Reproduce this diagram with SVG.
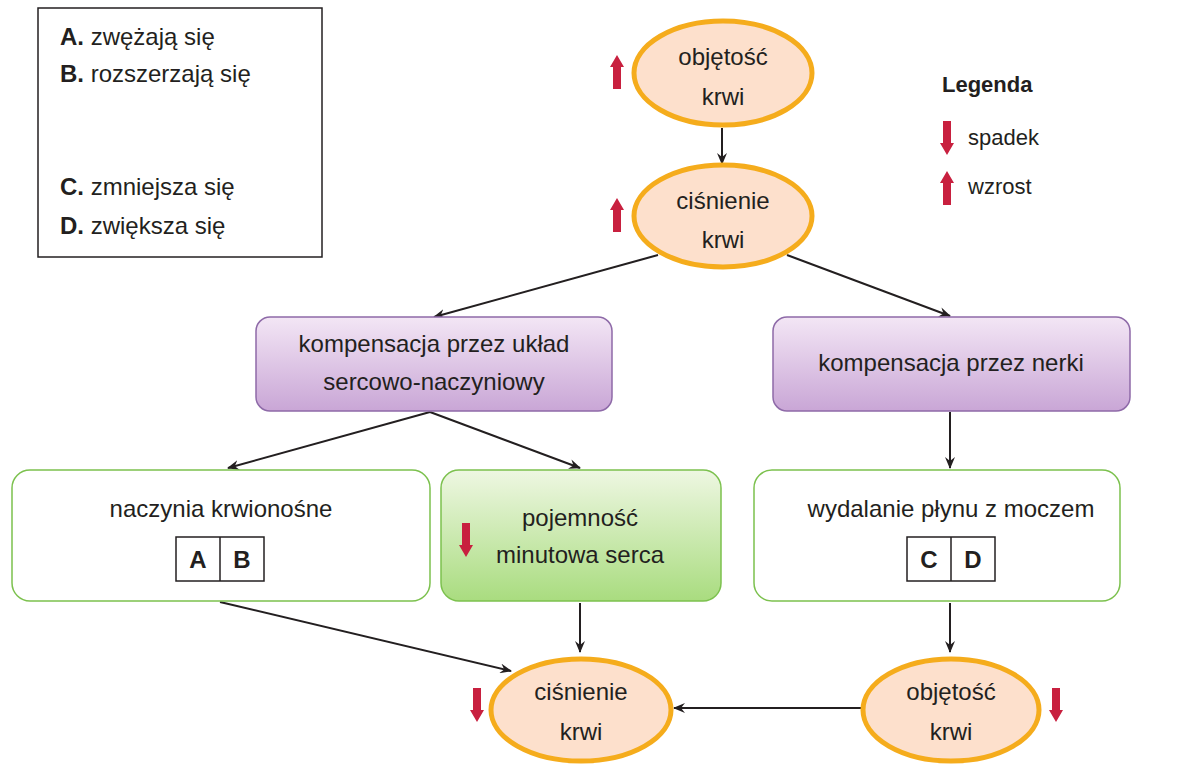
<svg xmlns="http://www.w3.org/2000/svg" width="1200" height="766" viewBox="0 0 1200 766">
<defs>
<marker id="ah" markerWidth="12" markerHeight="10" refX="11" refY="5" orient="auto" markerUnits="userSpaceOnUse"><path d="M0,0 L12,5 L0,10 L4,5 Z" fill="#231f20"/></marker>
<linearGradient id="pg" x1="0" y1="0" x2="0" y2="1"><stop offset="0" stop-color="#f3e6f5"/><stop offset="1" stop-color="#c9a6d6"/></linearGradient>
<linearGradient id="gg" x1="0" y1="0" x2="0" y2="1"><stop offset="0" stop-color="#eef7e2"/><stop offset="1" stop-color="#a9dc7f"/></linearGradient>
<path id="up" d="M-4,34 L-4,12 L-7,12 L0,0 L7,12 L4,12 L4,34 Z" fill="#c8203f"/>
<path id="dn" d="M-4,0 L-4,22 L-7,22 L0,34 L7,22 L4,22 L4,0 Z" fill="#c8203f"/>
</defs>
<style>
text{font-family:"Liberation Sans",Arial,sans-serif;font-size:24px;fill:#231f20}
.c{text-anchor:middle}
.b{font-weight:bold}
.ell{fill:#fde0cc;stroke:#f5ac1c;stroke-width:5}
.pur{fill:url(#pg);stroke:#8e6aa8;stroke-width:1.5}
.wh{fill:#fff;stroke:#7cc14e;stroke-width:1.5}
.gr{fill:url(#gg);stroke:#7cc14e;stroke-width:1.5}
.con{stroke:#231f20;stroke-width:2;fill:none;marker-end:url(#ah)}
.sq{fill:#fff;stroke:#231f20;stroke-width:1.5}
</style>
<rect width="1200" height="766" fill="#fff"/>
<g id="options">
<rect x="38" y="8" width="284" height="249" fill="#fff" stroke="#231f20" stroke-width="1.5"/>
<text x="60" y="45"><tspan class="b">A.</tspan> zwężają się</text>
<text x="60" y="82"><tspan class="b">B.</tspan> rozszerzają się</text>
<text x="60" y="195"><tspan class="b">C.</tspan> zmniejsza się</text>
<text x="60" y="234"><tspan class="b">D.</tspan> zwiększa się</text>
</g>
<g id="legend">
<text x="942" y="92" class="b" style="font-size:22px">Legenda</text>
<use href="#dn" x="947" y="121"/>
<text x="968" y="145" style="font-size:22px">spadek</text>
<use href="#up" x="947" y="171"/>
<text x="968" y="194" style="font-size:22px">wzrost</text>
</g>
<g id="connectors">
<line class="con" x1="722" y1="128" x2="722" y2="164"/>
<line class="con" x1="658" y1="255" x2="434" y2="317"/>
<line class="con" x1="787" y1="255" x2="950" y2="316"/>
<line class="con" x1="430" y1="412" x2="228" y2="468"/>
<line class="con" x1="430" y1="412" x2="580" y2="468"/>
<line class="con" x1="950" y1="412" x2="950" y2="468"/>
<line class="con" x1="580" y1="603" x2="580" y2="652"/>
<line class="con" x1="220" y1="602" x2="511" y2="671"/>
<line class="con" x1="950" y1="603" x2="950" y2="652"/>
<line class="con" x1="862" y1="708" x2="674" y2="708"/>
</g>
<g id="n-objetosc-top">
<ellipse class="ell" cx="723" cy="73" rx="89" ry="52"/>
<text class="c" x="723" y="65">objętość</text><text class="c" x="723" y="105">krwi</text>
<use href="#up" x="617" y="55"/>
</g>
<g id="n-cisnienie-top">
<ellipse class="ell" cx="723" cy="216" rx="89" ry="51"/>
<text class="c" x="723" y="209">ciśnienie</text><text class="c" x="723" y="248">krwi</text>
<use href="#up" x="617" y="198"/>
</g>
<g id="n-komp-serce">
<rect class="pur" x="256" y="317" width="356" height="94" rx="14"/>
<text class="c" x="434" y="352">kompensacja przez układ</text>
<text class="c" x="434" y="390">sercowo-naczyniowy</text>
</g>
<g id="n-komp-nerki">
<rect class="pur" x="773" y="317" width="357" height="94" rx="14"/>
<text class="c" x="951" y="371">kompensacja przez nerki</text>
</g>
<g id="n-naczynia">
<rect class="wh" x="12" y="470" width="418" height="131" rx="18"/>
<text class="c" x="221" y="517">naczynia krwionośne</text>
<rect class="sq" x="176" y="537" width="88" height="44"/>
<line x1="220" y1="537" x2="220" y2="581" stroke="#231f20" stroke-width="1.5"/>
<text class="c b" x="198" y="568">A</text><text class="c b" x="242" y="568">B</text>
</g>
<g id="n-pojemnosc">
<rect class="gr" x="441" y="470" width="280" height="131" rx="18"/>
<text class="c" x="580" y="526">pojemność</text>
<text class="c" x="580" y="563">minutowa serca</text>
<use href="#dn" x="466" y="523"/>
</g>
<g id="n-wydalanie">
<rect class="wh" x="754" y="470" width="366" height="131" rx="18"/>
<text class="c" x="951" y="517">wydalanie płynu z moczem</text>
<rect class="sq" x="907" y="537" width="88" height="44"/>
<line x1="951" y1="537" x2="951" y2="581" stroke="#231f20" stroke-width="1.5"/>
<text class="c b" x="929" y="568">C</text><text class="c b" x="973" y="568">D</text>
</g>
<g id="n-cisnienie-bottom">
<ellipse class="ell" cx="581" cy="710" rx="90" ry="51"/>
<text class="c" x="581" y="700">ciśnienie</text><text class="c" x="581" y="740">krwi</text>
<use href="#dn" x="477" y="688"/>
</g>
<g id="n-objetosc-bottom">
<ellipse class="ell" cx="951" cy="710" rx="88" ry="51"/>
<text class="c" x="951" y="700">objętość</text><text class="c" x="951" y="740">krwi</text>
<use href="#dn" x="1056" y="688"/>
</g>
</svg>
